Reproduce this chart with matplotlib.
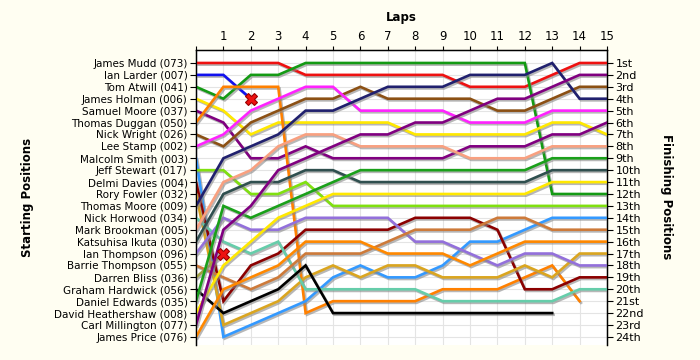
import matplotlib
matplotlib.use('Agg')
import matplotlib.pyplot as plt
import matplotlib.patheffects as pe

# starting grid, in order
start_names = ['James Mudd (073)', 'Ian Larder (007)', 'Tom Atwill (041)', 'James Holman (006)',
               'Samuel Moore (037)', 'Thomas Duggan (050)', 'Nick Wright (026)', 'Lee Stamp (002)',
               'Malcolm Smith (003)', 'Jeff Stewart (017)', 'Delmi Davies (004)', 'Rory Fowler (032)',
               'Thomas Moore (009)', 'Nick Horwood (034)', 'Mark Brookman (005)', 'Katsuhisa Ikuta (030)',
               'Ian Thompson (096)', 'Barrie Thompson (055)', 'Darren Bliss (036)', 'Graham Hardwick (056)',
               'Daniel Edwards (035)', 'David Heathershaw (008)', 'Carl Millington (077)', 'James Price (076)']
finish_labels = ['1st', '2nd', '3rd', '4th', '5th', '6th', '7th', '8th', '9th', '10th', '11th', '12th',
                 '13th', '14th', '15th', '16th', '17th', '18th', '19th', '20th', '21st', '22nd', '23rd', '24th']
lap_labels = list(range(1, 16))

# position at each lap (lap 0 = grid)
mudd       = [1, 1, 1, 1, 2, 2, 2, 2, 2, 2, 3, 3, 3, 2, 1, 1]
larder     = [2, 2, 4]
atwill     = [3, 4, 2, 2, 1, 1, 1, 1, 1, 1, 1, 1, 1, 12, 12, 12]
holman     = [4, 5, 7, 6, 6, 6, 6, 6, 7, 7, 7, 7, 7, 6, 6, 7]
s_moore    = [5, 6, 9, 9, 8, 9, 9, 9, 9, 9, 8, 8, 8, 7, 7, 6]
duggan     = [6, 3, 3, 3, 22, 21, 21, 21, 21, 20, 20, 20, 19, 18, 21]
wright     = [7, 8, 6, 5, 4, 4, 3, 4, 4, 4, 4, 5, 5, 4, 3, 3]
stamp      = [8, 7, 5, 4, 3, 3, 5, 5, 5, 5, 6, 6, 6, 5, 5, 5]
smith      = [9, 24, 23, 22, 21, 19, 18, 19, 19, 18, 16, 16, 15, 14, 14, 14]
stewart    = [10, 10, 12, 12, 11, 13, 13, 13, 13, 13, 13, 13, 13, 13, 13, 13]
davies     = [11, 21, 18, 17, 15, 15, 15, 15, 14, 14, 14, 15, 20, 20, 19, 19]
fowler     = [12, 23, 22, 21, 19, 18, 19, 18, 18, 19, 19, 19, 18, 19, 17, 17]
t_moore    = [13, 9, 8, 7, 5, 5, 4, 3, 3, 3, 2, 2, 2, 1, 4, 4]
horwood    = [14, 16, 17, 16, 20, 20, 20, 20, 20, 21, 21, 21, 21, 21, 20, 20]
brookman   = [15, 11, 10, 8, 7, 7, 8, 8, 8, 8, 9, 9, 9, 8, 8, 8]
ikuta      = [16, 12, 11, 11, 10, 10, 11, 11, 11, 11, 11, 11, 11, 10, 10, 10]
i_thompson = [17, 14, 15, 15, 14, 14, 14, 14, 16, 16, 17, 18, 17, 17, 18, 18]
b_thompson = [18, 19, 20, 19, 17, 17, 17, 16, 15, 15, 15, 14, 14, 15, 15, 15]
bliss      = [19, 17]
hardwick   = [20, 22, 21, 20, 18, 22, 22, 22, 22, 22, 22, 22, 22, 22]
edwards    = [21, 13, 14, 13, 12, 11, 10, 10, 10, 10, 10, 10, 10, 9, 9, 9]
heathershaw = [22, 18, 16, 14, 13, 12, 12, 12, 12, 12, 12, 12, 12, 11, 11, 11]
millington = [23, 15, 13, 10, 9, 8, 7, 7, 6, 6, 5, 4, 4, 3, 2, 2]
price      = [24, 20, 19, 18, 16, 16, 16, 17, 17, 17, 18, 17, 16, 16, 16, 16]

retired = [larder, bliss]

positions = [mudd, larder, atwill, holman, s_moore, duggan, wright, stamp, smith, stewart,
             davies, fowler, t_moore, horwood, brookman, ikuta, i_thompson, b_thompson,
             bliss, hardwick, edwards, heathershaw, millington, price]
colors = ['#EE1111', '#1111EE', '#149A14', '#FFE800', '#800080', '#FF8000', '#8B5014', '#FF22FF',
          '#3399FF', '#80E010', '#8B0000', '#DAA520', '#20206E', '#66CDAA', '#F8A080', '#2F4F4F',
          '#9370DB', '#CD7A3A', '#A0A040', '#000000', '#1AA01A', '#FFE800', '#800080', '#FF8800']

fig = plt.figure(figsize=(7, 3.6), dpi=100, facecolor='#FFFEF2')
ax = fig.add_axes([196/700, 1 - 345/360, 411/700, 295/360])
ax.set_facecolor('white')

shadow = [pe.SimpleLineShadow(offset=(1, -1.2), shadow_color='#888888', alpha=0.6), pe.Normal()]
for pos, col in zip(positions, colors):
    ax.plot(range(len(pos)), pos, color=col, lw=1.9, solid_joinstyle='miter',
            path_effects=shadow, zorder=3)
for pos in retired:
    ax.plot(len(pos) - 1, pos[-1], marker='X', ms=8, color='#EE1111', mec='#990000', mew=0.8, zorder=5)

ax.set_xlim(0, 15)
ax.set_ylim(24.68, -0.09)

ax.set_xticks(range(0, 16))
ax.set_xticklabels([''] + [str(l) for l in lap_labels])
ax.xaxis.tick_top()
ax.tick_params(axis='x', length=3, labelsize=8.5, pad=2, color='black')
ax.set_yticks(range(1, 25))
ax.set_yticklabels(start_names, fontsize=7.5)
ax.tick_params(axis='y', length=4, pad=2)
ax.grid(True, color='#E4E4E4', lw=0.8, zorder=0)
ax.set_axisbelow(True)
for s in ['bottom']:
    ax.spines[s].set_visible(False)
for s in ['left', 'right', 'top']:
    ax.spines[s].set_linewidth(1.0)

ax2 = ax.twinx()
ax2.set_ylim(ax.get_ylim())
ax2.set_yticks(range(1, 25))
ax2.set_yticklabels(finish_labels, fontsize=8)
ax2.tick_params(axis='y', length=4, pad=2)
ax2.spines['bottom'].set_visible(False)

fig.text(401/700, 1 - 18/360, 'Laps', ha='center', va='center', fontsize=8.5, fontweight='bold')
fig.text(28/700, 1 - 197/360, 'Starting Positions', ha='center', va='center', rotation=90,
         fontsize=8.5, fontweight='bold')
fig.text(667/700, 1 - 197/360, 'Finishing Positions', ha='center', va='center', rotation=270,
         fontsize=8.5, fontweight='bold')

fig.savefig('out.png', dpi=100, facecolor=fig.get_facecolor())
